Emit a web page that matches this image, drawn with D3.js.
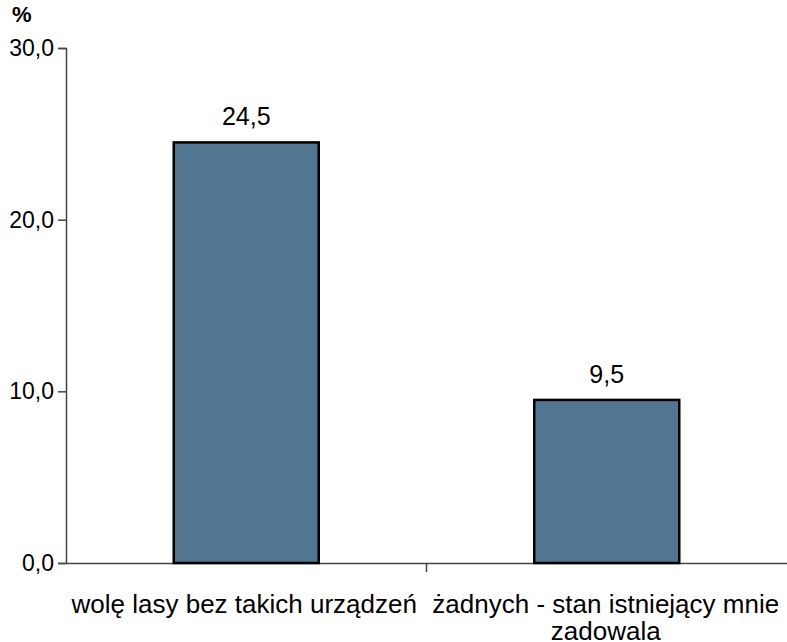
<!DOCTYPE html>
<html><head><meta charset="utf-8">
<script src="https://cdn.jsdelivr.net/npm/d3@7"></script>
<style>body{margin:0;background:#fff}svg text{font-family:Arial,"Liberation Sans",sans-serif}</style>
</head><body>
<svg id="c" width="787" height="642"></svg>
<script>
const categories = ["wolę lasy bez takich urządzeń", "żadnych - stan istniejący mnie zadowala"];
const labelLines = [["wolę lasy bez takich urządzeń"], ["żadnych - stan istniejący mnie", "zadowala"]];
const values = [24.5, 9.5];
const yTicks = [0, 10, 20, 30];

const svg = d3.select("#c");
const x = d3.scaleBand().domain(categories).range([66, 787]).paddingInner(0).paddingOuter(0);
const y = d3.scaleLinear().domain([0, 30]).range([563, 48]);
const bw = 145;

const ya = svg.append("g").attr("transform", "translate(66,0)")
  .call(d3.axisLeft(y).tickValues(yTicks).tickSize(8).tickFormat(d => d3.format(".1f")(d).replace(".", ",")));
ya.attr("font-family", null);
ya.select(".domain").attr("stroke", "#444").attr("stroke-width", 1.5);
ya.selectAll(".tick line").attr("stroke", "#444").attr("stroke-width", 1.5);
ya.selectAll(".tick text").attr("font-size", 23).attr("fill", "#000").attr("x", -12);

const xa = svg.append("g").attr("transform", "translate(0,563)")
  .call(d3.axisBottom(x).tickValues([]).tickSizeOuter(0));
xa.select(".domain").attr("stroke", "#444").attr("stroke-width", 1.5);
const sep = [x(categories[1])];
svg.selectAll("line.sep").data(sep).join("line")
  .attr("x1", d => d).attr("x2", d => d).attr("y1", 563).attr("y2", 572)
  .attr("stroke", "#444").attr("stroke-width", 1.5);

svg.selectAll("rect.bar").data(values).join("rect")
  .attr("x", (d, i) => x(categories[i]) + x.bandwidth() / 2 - bw / 2)
  .attr("y", d => y(d)).attr("width", bw).attr("height", d => y(0) - y(d))
  .attr("fill", "#527592").attr("stroke", "#000").attr("stroke-width", 2.5);

svg.selectAll("text.val").data(values).join("text")
  .attr("x", (d, i) => x(categories[i]) + x.bandwidth() / 2)
  .attr("y", d => y(d) - 17).attr("text-anchor", "middle").attr("font-size", 25)
  .text(d => d3.format(".1f")(d).replace(".", ","));

labelLines.forEach((lines, i) => {
  lines.forEach((l, j) => {
    svg.append("text").attr("x", x(categories[i]) + x.bandwidth() / 2 + (i === 0 ? -2 : -1))
      .attr("y", 613 + j * 27).attr("text-anchor", "middle").attr("font-size", 26).text(l);
  });
});

svg.append("text").attr("x", 12).attr("y", 22).attr("font-size", 22).attr("font-weight", "bold").text("%");
</script>
</body></html>
